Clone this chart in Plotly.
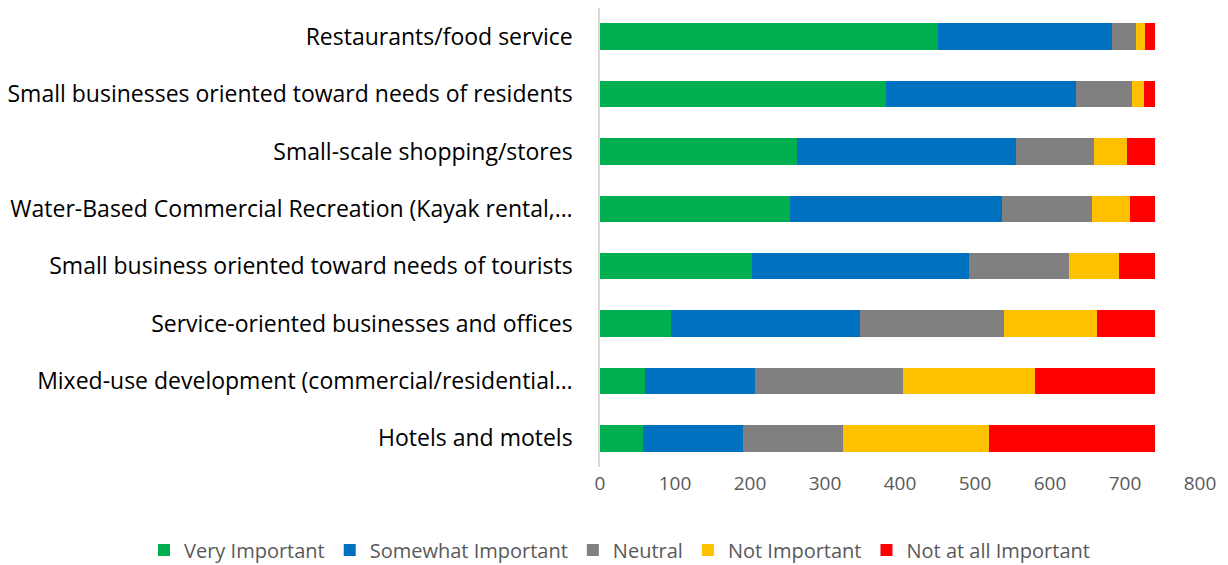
import plotly.graph_objects as go

categories = [
    "Restaurants/food service",
    "Small businesses oriented toward needs of residents",
    "Small-scale shopping/stores",
    "Water-Based Commercial Recreation (Kayak rental,…",
    "Small business oriented toward needs of tourists",
    "Service-oriented businesses and offices",
    "Mixed-use development (commercial/residential…",
    "Hotels and motels",
]
very_important = [451, 381, 263, 253, 202, 94, 60, 57]
somewhat_important = [232, 253, 291, 283, 290, 253, 146, 134]
neutral = [32, 75, 104, 120, 133, 191, 198, 133]
not_important = [12, 16, 44, 50, 67, 125, 176, 195]
not_at_all_important = [13, 15, 38, 34, 48, 77, 160, 221]

series = [
    ("Very Important", very_important, "#00B050"),
    ("Somewhat Important", somewhat_important, "#0070C0"),
    ("Neutral", neutral, "#808080"),
    ("Not Important", not_important, "#FFC000"),
    ("Not at all Important", not_at_all_important, "#FF0000"),
]

fig = go.Figure()
for name, vals, color in series:
    fig.add_trace(go.Bar(
        y=categories, x=vals, name=name, orientation="h",
        marker=dict(color=color, line=dict(width=0)),
    ))

fig.update_layout(
    barmode="stack",
    bargap=0.54,
    width=1228, height=565,
    margin=dict(l=592, r=36, t=0, b=106, autoexpand=False),
    paper_bgcolor="white", plot_bgcolor="white",
    font=dict(family="Open Sans, sans-serif", color="#595959"),
    xaxis=dict(range=[0, 800], dtick=100, showgrid=False, zeroline=False,
               showline=False, ticks="", automargin=False, ticklabelstandoff=3,
               tickfont=dict(size=19, color="#595959")),
    yaxis=dict(categoryorder="array", categoryarray=categories[::-1],
               showline=True, linecolor="#D9D9D9", linewidth=1.5,
               ticks="", ticklabelstandoff=21, automargin=False,
               tickfont=dict(size=23, color="#000000")),
    legend=dict(orientation="h", x=-0.76, xanchor="left", y=-0.181, yanchor="middle",
                font=dict(size=20, color="#595959"), traceorder="normal",
                itemwidth=30),
    showlegend=True,
)

fig.write_html("out.html")
